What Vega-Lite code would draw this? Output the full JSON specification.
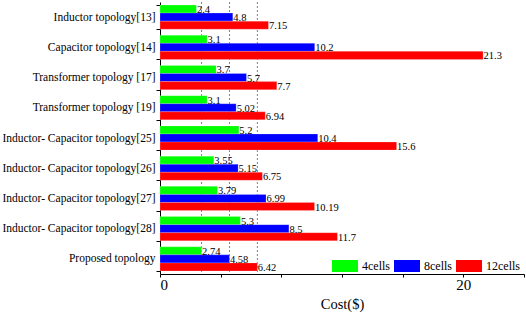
{
  "$schema": "https://vega.github.io/schema/vega-lite/v6.json",
  "width": 364,
  "height": 272,
  "autosize": {"type": "none"},
  "padding": {"left": 160, "top": 2, "right": 2, "bottom": 41},
  "background": "white",
  "config": {
    "view": {"stroke": null},
    "font": "Liberation Serif",
    "axis": {"labelFont": "Liberation Serif", "titleFont": "Liberation Serif", "labelColor": "black", "titleColor": "black", "domainColor": "black", "tickColor": "black", "grid": false},
    "legend": {"labelFont": "Liberation Serif"}
  },
  "datasets": {
    "costs": [
      {"topology": "Inductor topology[13]", "cells": "4cells", "cost": 2.4},
      {"topology": "Inductor topology[13]", "cells": "8cells", "cost": 4.8},
      {"topology": "Inductor topology[13]", "cells": "12cells", "cost": 7.15},
      {"topology": "Capacitor topology[14]", "cells": "4cells", "cost": 3.1},
      {"topology": "Capacitor topology[14]", "cells": "8cells", "cost": 10.2},
      {"topology": "Capacitor topology[14]", "cells": "12cells", "cost": 21.3},
      {"topology": "Transformer topology [17]", "cells": "4cells", "cost": 3.7},
      {"topology": "Transformer topology [17]", "cells": "8cells", "cost": 5.7},
      {"topology": "Transformer topology [17]", "cells": "12cells", "cost": 7.7},
      {"topology": "Transformer topology [19]", "cells": "4cells", "cost": 3.1},
      {"topology": "Transformer topology [19]", "cells": "8cells", "cost": 5.02},
      {"topology": "Transformer topology [19]", "cells": "12cells", "cost": 6.94},
      {"topology": "Inductor- Capacitor topology[25]", "cells": "4cells", "cost": 5.2},
      {"topology": "Inductor- Capacitor topology[25]", "cells": "8cells", "cost": 10.4},
      {"topology": "Inductor- Capacitor topology[25]", "cells": "12cells", "cost": 15.6},
      {"topology": "Inductor- Capacitor topology[26]", "cells": "4cells", "cost": 3.55},
      {"topology": "Inductor- Capacitor topology[26]", "cells": "8cells", "cost": 5.15},
      {"topology": "Inductor- Capacitor topology[26]", "cells": "12cells", "cost": 6.75},
      {"topology": "Inductor- Capacitor topology[27]", "cells": "4cells", "cost": 3.79},
      {"topology": "Inductor- Capacitor topology[27]", "cells": "8cells", "cost": 6.99},
      {"topology": "Inductor- Capacitor topology[27]", "cells": "12cells", "cost": 10.19},
      {"topology": "Inductor- Capacitor topology[28]", "cells": "4cells", "cost": 5.3},
      {"topology": "Inductor- Capacitor topology[28]", "cells": "8cells", "cost": 8.5},
      {"topology": "Inductor- Capacitor topology[28]", "cells": "12cells", "cost": 11.7},
      {"topology": "Proposed topology", "cells": "4cells", "cost": 2.74},
      {"topology": "Proposed topology", "cells": "8cells", "cost": 4.58},
      {"topology": "Proposed topology", "cells": "12cells", "cost": 6.42}
    ],
    "refs": [{"ref": 2.74}, {"ref": 4.58}, {"ref": 6.42}]
  },
  "layer": [
    {
      "data": {"name": "refs"},
      "mark": {"type": "rule", "color": "#808080", "strokeDash": [2, 2], "strokeWidth": 1},
      "encoding": {
        "x": {"field": "ref", "type": "quantitative", "scale": {"domain": [0, 24]}}
      }
    },
    {
      "data": {"name": "costs"},
      "encoding": {
        "y": {
          "field": "topology", "type": "nominal", "sort": null,
          "scale": {"paddingInner": 0.2, "paddingOuter": 0.1},
          "axis": {"title": null, "labelFontSize": 11.5, "tickBand": "extent", "tickSize": 4, "labelPadding": 1}
        },
        "yOffset": {"field": "cells", "type": "nominal", "sort": ["4cells", "8cells", "12cells"]},
        "x": {
          "field": "cost", "type": "quantitative",
          "scale": {"domain": [0, 24], "nice": false},
          "axis": {"title": "Cost($)", "titleFontSize": 14.5, "titleFontWeight": "normal", "titlePadding": 5, "labelFontSize": 15, "values": [0, 2, 4, 6, 8, 10, 12, 14, 16, 18, 20, 22, 24], "labelExpr": "datum.value % 10 === 0 ? datum.label : ''", "tickSize": 3, "labelPadding": 0}
        }
      },
      "layer": [
        {
          "mark": {"type": "bar", "stroke": "white", "strokeOpacity": 0.4, "strokeWidth": 0.5},
          "encoding": {
            "color": {
              "field": "cells", "type": "nominal", "sort": ["4cells", "8cells", "12cells"],
              "scale": {"domain": ["4cells", "8cells", "12cells"], "range": ["#00ff00", "#0000ff", "#ff0000"]},
              "legend": {
                "title": null, "orient": "none", "direction": "horizontal", "columns": 3,
                "legendX": 172, "legendY": 251,
                "symbolType": "M-1,-0.46H1V0.46H-1Z", "symbolSize": 676, "symbolStrokeWidth": 0,
                "labelFontSize": 12, "labelColor": "black",
                "columnPadding": 4, "labelOffset": 4
              }
            }
          }
        },
        {
          "mark": {"type": "text", "align": "left", "baseline": "middle", "dx": 0.5, "dy": 1, "fontSize": 10.5, "color": "black"},
          "encoding": {"text": {"field": "cost", "type": "quantitative"}}
        }
      ]
    }
  ]
}
